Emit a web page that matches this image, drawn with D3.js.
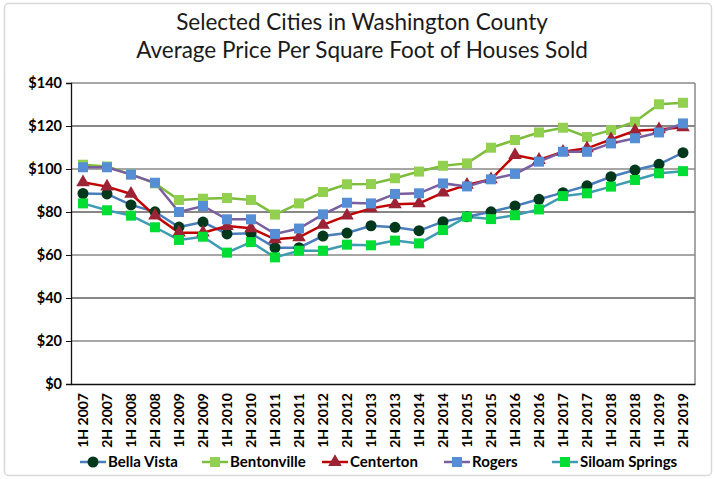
<!DOCTYPE html>
<html lang="en">
<head>
    <meta charset="UTF-8">
    <title>Average Price Per Square Foot</title>
    <script src="https://d3js.org/d3.v7.min.js"></script>
    <style>
        body { margin: 0; background: #fff; }
        text { font-family: Lato, "Open Sans", sans-serif; }
    </style>
</head>
<body>
    <svg id="chart"></svg>
    <script>
        const width = 715;
        const height = 479;

        const periods = ['1H 2007', '2H 2007', '1H 2008', '2H 2008', '1H 2009', '2H 2009', '1H 2010', '2H 2010',
            '1H 2011', '2H 2011', '1H 2012', '2H 2012', '1H 2013', '2H 2013', '1H 2014', '2H 2014',
            '1H 2015', '2H 2015', '1H 2016', '2H 2016', '1H 2017', '2H 2017', '1H 2018', '2H 2018',
            '1H 2019', '2H 2019'];

        const bellaVista = [88.6, 88.4, 83.3, 80.1, 73, 75.3, 69.8, 70.1, 63.4, 63.4, 68.8, 70.2, 73.6, 72.9,
            71.3, 75.5, 77.8, 80.1, 82.8, 85.9, 89, 92.2, 96.4, 99.5, 102.2, 107.6];
        const bentonville = [102, 101.2, 97.5, 93.3, 85.6, 86.2, 86.5, 85.6, 78.8, 84, 89.3, 92.9, 93, 95.7,
            98.8, 101.5, 102.6, 109.9, 113.5, 117, 119.2, 114.9, 118.1, 122, 130.1, 130.8];
        const centerton = [93.8, 91.8, 88.4, 78.3, 70.4, 70.4, 73.5, 72.4, 67.3, 68.2, 74, 78.3, 81.7, 83.6,
            84, 89, 92.6, 95.2, 106.5, 104.2, 108, 109.6, 113.8, 117.8, 118.4, 119.4];
        const rogers = [100.8, 100.8, 97.4, 93.6, 80, 82.8, 76.6, 76.6, 69.8, 72.3, 78.9, 84.3, 84, 88.4,
            88.7, 93.3, 91.9, 95.2, 97.7, 103.4, 108, 108, 111.9, 114.3, 117, 121.2];
        const siloamSprings = [84, 80.8, 78.3, 72.9, 67, 68.5, 61.1, 66, 58.9, 62, 62, 64.8, 64.5, 66.7,
            65.4, 71.6, 77.8, 76.7, 78.5, 81.2, 87.4, 88.7, 91.8, 94.9, 98, 99];

        const yTicks = [0, 20, 40, 60, 80, 100, 120, 140];

        const series = [
            { name: 'Bella Vista', values: bellaVista, line: '#4a7ebb', fill: '#00381c', shape: 'circle' },
            { name: 'Bentonville', values: bentonville, line: '#7cbd3c', fill: '#92d050', shape: 'square' },
            { name: 'Centerton', values: centerton, line: '#c00000', fill: '#9b2335', shape: 'triangle' },
            { name: 'Rogers', values: rogers, line: '#7a5fa0', fill: '#558ed5', shape: 'square' },
            { name: 'Siloam Springs', values: siloamSprings, line: '#3e9cb0', fill: '#00dd33', shape: 'square' }
        ];

        const margin = { top: 83, right: 20, bottom: 95, left: 71 };
        const plotW = width - margin.left - margin.right;
        const plotH = height - margin.top - margin.bottom;

        const svg = d3.select('#chart')
            .attr('width', width)
            .attr('height', height);

        // outer chart frame
        svg.append('rect')
            .attr('x', 4.5).attr('y', 3.5)
            .attr('width', 707).attr('height', 472)
            .attr('rx', 4)
            .attr('fill', '#fff')
            .attr('stroke', '#d9d9d9')
            .attr('stroke-width', 1.5);

        svg.append('text')
            .attr('x', 362).attr('y', 30)
            .attr('text-anchor', 'middle')
            .attr('font-size', 22.5)
            .attr('fill', '#1a1a1a')
            .text('Selected Cities in Washington County');
        svg.append('text')
            .attr('x', 362).attr('y', 58)
            .attr('text-anchor', 'middle')
            .attr('font-size', 22.5)
            .attr('fill', '#1a1a1a')
            .text('Average Price Per Square Foot of Houses Sold');

        const g = svg.append('g').attr('transform', `translate(${margin.left},${margin.top})`);

        const x = d3.scaleBand().domain(periods).range([0, plotW]);
        const y = d3.scaleLinear().domain([0, 140]).range([plotH, 0]);

        // gridlines (alternating like the original render)
        g.selectAll('.grid')
            .data(yTicks.filter(d => d > 0))
            .join('line')
            .attr('x1', 0).attr('x2', plotW)
            .attr('y1', d => y(d)).attr('y2', d => y(d))
            .attr('stroke', (d, i) => i % 2 === 0 ? '#888' : '#111')
            .attr('stroke-width', (d, i) => i % 2 === 0 ? 1.5 : 1.2);

        // right border of plot area
        g.append('line')
            .attr('x1', plotW).attr('x2', plotW)
            .attr('y1', 0).attr('y2', plotH)
            .attr('stroke', '#888').attr('stroke-width', 1.5);

        const yAxis = g.append('g')
            .call(d3.axisLeft(y).tickValues(yTicks).tickSize(5).tickFormat(d => '$' + d));
        yAxis.select('.domain').attr('stroke', '#111').attr('stroke-width', 1.3);
        yAxis.selectAll('.tick line').attr('stroke', '#111');
        yAxis.selectAll('.tick text')
            .attr('font-size', 14.5).attr('font-weight', 'bold')
            .attr('fill', '#000').attr('x', -9);

        const xAxis = g.append('g')
            .attr('transform', `translate(0,${plotH})`)
            .call(d3.axisBottom(x).tickSize(0));
        xAxis.select('.domain').attr('stroke', '#111').attr('stroke-width', 1.3);
        xAxis.selectAll('.tick text')
            .attr('font-size', 14).attr('font-weight', 'bold').attr('fill', '#000')
            .attr('transform', 'rotate(-90)')
            .attr('text-anchor', 'end')
            .attr('x', -9).attr('y', 0).attr('dy', '0.35em');

        const line = d3.line()
            .x((d, i) => x(periods[i]) + x.bandwidth() / 2)
            .y(d => y(d));

        const symbolFor = shape => shape === 'circle' ? d3.symbol(d3.symbolCircle, 95)
            : shape === 'triangle' ? d3.symbol(d3.symbolTriangle, 80)
            : d3.symbol(d3.symbolSquare, 100);

        series.forEach(s => {
            g.append('path')
                .datum(s.values)
                .attr('fill', 'none')
                .attr('stroke', s.line)
                .attr('stroke-width', 2.5)
                .attr('d', line);
        });
        series.forEach(s => {
            g.selectAll(null)
                .data(s.values)
                .join('path')
                .attr('transform', (d, i) => `translate(${x(periods[i]) + x.bandwidth() / 2},${y(d)})`)
                .attr('d', symbolFor(s.shape)())
                .attr('fill', s.fill);
        });

        // legend
        const legendX = [80, 202, 322, 444, 552];
        const legend = svg.append('g').attr('transform', 'translate(0,462)');
        series.forEach((s, i) => {
            const item = legend.append('g').attr('transform', `translate(${legendX[i]},0)`);
            item.append('line')
                .attr('x1', 0).attr('x2', 26)
                .attr('stroke', s.line).attr('stroke-width', 2.5);
            item.append('path')
                .attr('transform', 'translate(13,0)')
                .attr('d', symbolFor(s.shape)())
                .attr('fill', s.fill);
            item.append('text')
                .attr('x', 28).attr('dy', '0.35em')
                .attr('font-size', 15).attr('font-weight', 'bold')
                .attr('fill', '#000')
                .text(s.name);
        });
    </script>
</body>
</html>
